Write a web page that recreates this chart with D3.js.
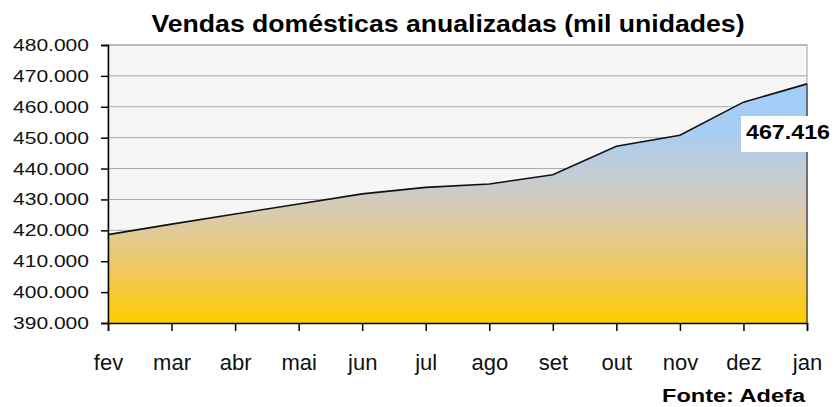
<!DOCTYPE html>
<html>
<head>
<meta charset="utf-8">
<script src="https://cdn.jsdelivr.net/npm/d3@7"></script>
<style>
	body { margin: 0; background: #fff; }
	svg { display: block; font-family: Arial, "Liberation Sans", sans-serif; }
</style>
</head>
<body>
<svg id="chart" width="835" height="407"></svg>
<script>
const months = ['fev', 'mar', 'abr', 'mai', 'jun', 'jul', 'ago', 'set', 'out', 'nov', 'dez', 'jan'];
const sales = [418600, 422000, 425300, 428500, 431800, 433900, 435000, 438000, 447200, 450800, 461500, 467416];
const yTicks = [390000, 400000, 410000, 420000, 430000, 440000, 450000, 460000, 470000, 480000];
const title = 'Vendas domésticas anualizadas (mil unidades)';
const source = 'Fonte: Adefa';

const plotLeft = 108;
const plotRight = 807;
const plotTop = 45;
const plotBottom = 323;

const ptBR = d3.formatLocale({ decimal: ',', thousands: '.', grouping: [3], currency: ['R$', ''] });
const fmt = ptBR.format(',d');

const data = months.map((m, i) => ({ month: m, value: sales[i] }));

const xScale = d3.scalePoint()
	.domain(months)
	.range([plotLeft, plotRight]);
const yScale = d3.scaleLinear()
	.domain([390000, 480000])
	.range([plotBottom, plotTop]);

const svg = d3.select('#chart');

const grad = svg.append('defs')
	.append('linearGradient')
	.attr('id', 'fillGrad')
	.attr('gradientUnits', 'userSpaceOnUse')
	.attr('x1', 0).attr('x2', 0)
	.attr('y1', plotTop).attr('y2', plotBottom);
[[0, '#99ccff'], [0.31, '#a8cdf2'], [0.49, '#c8ccd0'], [0.63, '#dccaa4'], [0.81, '#f0c860'], [1, '#ffcc00']]
	.forEach(([o, c]) => grad.append('stop').attr('offset', o).attr('stop-color', c));

// plot background
svg.append('rect')
	.attr('x', plotLeft)
	.attr('y', plotTop)
	.attr('width', plotRight - plotLeft)
	.attr('height', plotBottom - plotTop)
	.attr('fill', '#f6f6f6')
	.attr('stroke', '#a0a0a0');

// gridlines
svg.append('g')
	.selectAll('line')
	.data(yTicks)
	.enter()
	.append('line')
	.attr('x1', plotLeft)
	.attr('x2', plotRight)
	.attr('y1', d => yScale(d))
	.attr('y2', d => yScale(d))
	.attr('stroke', '#a8a8a8')
	.attr('stroke-width', 1);

const area = d3.area()
	.x(d => xScale(d.month))
	.y0(yScale(390000))
	.y1(d => yScale(d.value));
svg.append('path')
	.datum(data)
	.attr('d', area)
	.attr('fill', 'url(#fillGrad)');

const line = d3.line()
	.x(d => xScale(d.month))
	.y(d => yScale(d.value));
svg.append('path')
	.datum(data)
	.attr('d', line)
	.attr('fill', 'none')
	.attr('stroke', '#111')
	.attr('stroke-width', 1.6);

const last = data[data.length - 1];
svg.append('line')
	.attr('x1', xScale(last.month))
	.attr('x2', xScale(last.month))
	.attr('y1', yScale(last.value))
	.attr('y2', plotBottom)
	.attr('stroke', '#333')
	.attr('stroke-width', 1.2);

// axes
const yAxis = d3.axisLeft(yScale)
	.tickValues(yTicks)
	.tickSize(7)
	.tickPadding(12)
	.tickFormat(fmt);
const xAxis = d3.axisBottom(xScale)
	.tickSize(8)
	.tickPadding(23);

const gy = svg.append('g')
	.attr('transform', 'translate(' + plotLeft + ',0)')
	.call(yAxis);
gy.select('.domain').attr('stroke', '#000').attr('stroke-width', 1.5);
gy.selectAll('.tick line').attr('stroke', '#000').attr('stroke-width', 1.5);
gy.selectAll('text')
	.attr('fill', '#111')
	.style('font-size', '17px')
	.attr('textLength', 76)
	.attr('lengthAdjust', 'spacingAndGlyphs');

const gx = svg.append('g')
	.attr('transform', 'translate(0,' + plotBottom + ')')
	.call(xAxis);
gx.select('.domain').attr('stroke', '#000').attr('stroke-width', 1.5);
gx.selectAll('.tick line').attr('stroke', '#000').attr('stroke-width', 1.5);
gx.selectAll('text')
	.attr('fill', '#111')
	.style('font-size', '22px');

// value label
svg.append('rect')
	.attr('x', 741)
	.attr('y', 116)
	.attr('width', 94)
	.attr('height', 36)
	.attr('fill', '#fff');
svg.append('text')
	.attr('x', 746)
	.attr('y', 138.5)
	.text(fmt(last.value))
	.style('font-size', '21px')
	.style('font-weight', 'bold')
	.attr('fill', '#000')
	.attr('textLength', 84)
	.attr('lengthAdjust', 'spacingAndGlyphs');

svg.append('text')
	.attr('x', 448)
	.attr('y', 31.5)
	.attr('text-anchor', 'middle')
	.text(title)
	.style('font-size', '23px')
	.style('font-weight', 'bold')
	.attr('fill', '#000')
	.attr('textLength', 593)
	.attr('lengthAdjust', 'spacingAndGlyphs');

svg.append('text')
	.attr('x', 662)
	.attr('y', 402)
	.text(source)
	.style('font-size', '18px')
	.style('font-weight', 'bold')
	.attr('fill', '#000')
	.attr('textLength', 143)
	.attr('lengthAdjust', 'spacingAndGlyphs');
</script>
</body>
</html>
